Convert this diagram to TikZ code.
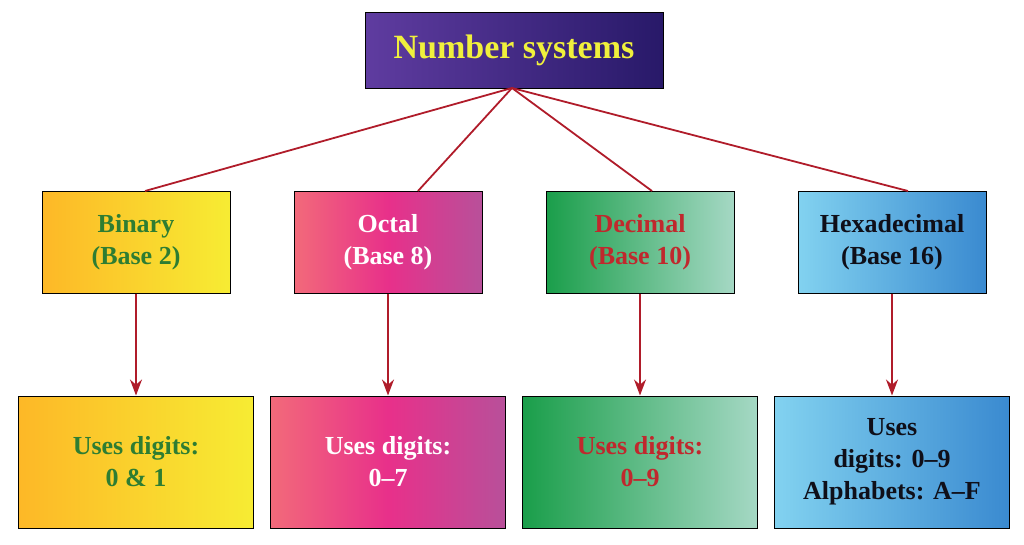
\documentclass[tikz,border=0pt]{standalone}
\usepackage{fontspec}
\setmainfont{Liberation Serif}
\usetikzlibrary{arrows.meta}
\definecolor{lc}{HTML}{B01C2A}
\begin{document}
\begin{tikzpicture}[x=1pt,y=-1pt,
 box/.style={draw=black,line width=1pt,minimum width=188pt,minimum height=102pt,align=center,font=\fontsize{26}{32}\selectfont\bfseries},
 bbox/.style={box,minimum width=235pt,minimum height=132pt},
 ln/.style={draw=lc,line width=1.8pt},
 ar/.style={ln,-{Stealth[length=16pt,width=12pt]}}]
\useasboundingbox (0,0) rectangle (1024,544);
\node[box,minimum width=298pt,minimum height=76pt,left color={rgb,255:red,95;green,60;blue,160},right color={rgb,255:red,40;green,25;blue,105},text={rgb,255:red,240;green,240;blue,60},font=\fontsize{34}{40}\selectfont\bfseries] (top) at (514,50) {Number systems};
\node[box,left color={rgb,255:red,253;green,184;blue,39},right color={rgb,255:red,247;green,236;blue,51},text={rgb,255:red,46;green,125;blue,50}] (b) at (136,242) {Binary\\(Base 2)};
\node[box,left color={rgb,255:red,242;green,106;blue,122},right color={rgb,255:red,184;green,80;blue,154},middle color={rgb,255:red,232;green,48;blue,138},text=white] (o) at (388,242) {Octal\\(Base 8)};
\node[box,left color={rgb,255:red,26;green,158;blue,74},right color={rgb,255:red,165;green,216;blue,196},text={rgb,255:red,192;green,40;blue,45}] (d) at (640,242) {Decimal\\(Base 10)};
\node[box,left color={rgb,255:red,130;green,210;blue,240},right color={rgb,255:red,58;green,138;blue,208},text={rgb,255:red,15;green,15;blue,25}] (h) at (892,242) {Hexadecimal\\(Base 16)};
\node[bbox,left color={rgb,255:red,253;green,184;blue,39},right color={rgb,255:red,247;green,236;blue,51},text={rgb,255:red,46;green,125;blue,50}] (b2) at (136,462) {Uses digits:\\0 \& 1};
\node[bbox,left color={rgb,255:red,242;green,106;blue,122},right color={rgb,255:red,184;green,80;blue,154},middle color={rgb,255:red,232;green,48;blue,138},text=white] (o2) at (388,462) {Uses digits:\\0--7};
\node[bbox,left color={rgb,255:red,26;green,158;blue,74},right color={rgb,255:red,165;green,216;blue,196},text={rgb,255:red,192;green,40;blue,45}] (d2) at (640,462) {Uses digits:\\0--9};
\node[bbox,left color={rgb,255:red,130;green,210;blue,240},right color={rgb,255:red,58;green,138;blue,208},text={rgb,255:red,15;green,15;blue,25}] (h2) at (892,462) {Uses\\digits: 0--9\\Alphabets: A--F};
\coordinate (t) at (512,88);
\draw[ln] (t) -- (145,191);
\draw[ln] (t) -- (418,191);
\draw[ln] (t) -- (652,191);
\draw[ln] (t) -- (908,191);
\foreach \a/\c in {b/b2,o/o2,d/d2,h/h2}{\draw[ar,fill=lc] (\a.south) -- (\c.north);}
\end{tikzpicture}
\end{document}
